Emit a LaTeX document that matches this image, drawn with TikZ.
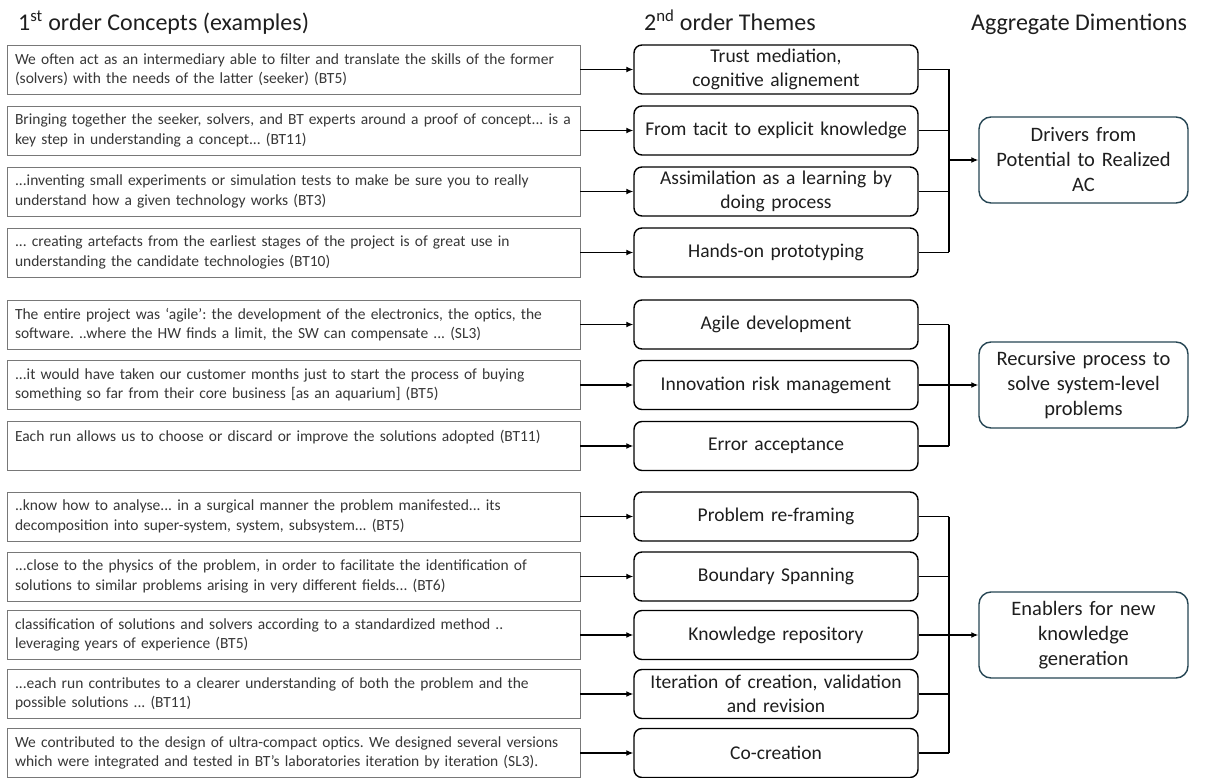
\documentclass[tikz,border=0pt]{standalone}
\usepackage{fontspec}
\setmainfont{Carlito}
\usetikzlibrary{arrows.meta}
\definecolor{aggc}{RGB}{38,70,84}
\definecolor{boxgray}{RGB}{120,120,120}
\definecolor{txt}{RGB}{55,55,55}
\definecolor{ttxt}{RGB}{30,30,30}
\begin{document}
\frenchspacing
\begin{tikzpicture}[x=1pt,y=-1pt,
  quote/.style={draw=boxgray, line width=0.9pt, minimum width=573pt, minimum height=49pt,
    text width=557pt, align=left, inner xsep=8pt, inner ysep=0pt,
    font=\fontsize{15.5}{19.5}\selectfont, text=txt},
  theme/.style={draw=black, line width=1.4pt, rounded corners=8pt, minimum width=284pt,
    minimum height=49pt, text width=276pt, align=center, inner xsep=4pt, inner ysep=0pt,
    font=\fontsize{19.5}{23.5}\selectfont, text=ttxt},
  agg/.style={draw=aggc, line width=1.4pt, rounded corners=12pt, minimum width=209pt,
    minimum height=86pt, text width=201pt, align=center, inner xsep=4pt, inner ysep=0pt,
    font=\fontsize{20.5}{25}\selectfont, text=ttxt},
  conn/.style={line width=1.3pt, black},
  arr/.style={conn, -{Latex[length=7pt,width=6pt]}},
  head/.style={font=\fontsize{24}{28}\selectfont, anchor=base west, inner sep=0pt, text=ttxt}]
\fill[white] (0,0) rectangle (1205,778);
\useasboundingbox (0,0) rectangle (1205,778);

% headers
\node[head] (h1) at (18,31) {1\textsuperscript{st} order Concepts (examples)};
\node[head] (h2) at (644,31) {2\textsuperscript{nd} order Themes};
\node[head] (h3) at (971,31) {Aggregate Dimentions};

% group 1
\node[quote] (q1) at (293.5,69.5) {We often act as an intermediary able to filter and translate the skills of the former\\(solvers) with the needs of the latter (seeker) (BT5)};
\node[quote] (q2) at (293.5,130.5) {Bringing together the seeker, solvers, and BT experts around a proof of concept... is a\\key step in understanding a concept... (BT11)};
\node[quote] (q3) at (293.5,191.5) {...inventing small experiments or simulation tests to make be sure you to really\\understand how a given technology works (BT3)};
\node[quote] (q4) at (293.5,252.5) {... creating artefacts from the earliest stages of the project is of great use in\\understanding the candidate technologies (BT10)};

\node[theme] (t1) at (776,69.5) {Trust mediation,\\cognitive alignement};
\node[theme] (t2) at (776,130.5) {From tacit to explicit knowledge};
\node[theme] (t3) at (776,191.5) {Assimilation as a learning by\\doing process};
\node[theme] (t4) at (776,252.5) {Hands-on prototyping};

\node[agg] (a1) at (1083.5,160) {Drivers from\\Potential to Realized\\AC};

% group 2
\node[quote] (q5) at (293.5,324.5) {The entire project was ‘agile’: the development of the electronics, the optics, the\\software. ..where the HW finds a limit, the SW can compensate ... (SL3)};
\node[quote] (q6) at (293.5,385) {...it would have taken our customer months just to start the process of buying\\something so far from their core business [as an aquarium] (BT5)};
\node[quote] (q7) at (293.5,446) {Each run allows us to choose or discard or improve the solutions adopted (BT11)\\\mbox{}};

\node[theme] (t5) at (776,324.5) {Agile development};
\node[theme] (t6) at (776,385) {Innovation risk management};
\node[theme] (t7) at (776,446) {Error acceptance};

\node[agg] (a2) at (1083.5,385) {Recursive process to\\solve system-level\\problems};

% group 3
\node[quote] (q8) at (293.5,516.5) {..know how to analyse... in a surgical manner the problem manifested... its\\decomposition into super-system, system, subsystem... (BT5)};
\node[quote] (q9) at (293.5,576.5) {...close to the physics of the problem, in order to facilitate the identification of\\solutions to similar problems arising in very different fields... (BT6)};
\node[quote] (q10) at (293.5,635) {classification of solutions and solvers according to a standardized method ..\\leveraging years of experience (BT5)};
\node[quote] (q11) at (293.5,694) {...each run contributes to a clearer understanding of both the problem and the\\possible solutions ... (BT11)};
\node[quote] (q12) at (293.5,753) {We contributed to the design of ultra-compact optics. We designed several versions\\which were integrated and tested in BT’s laboratories iteration by iteration (SL3).};

\node[theme] (t8) at (776,516.5) {Problem re-framing};
\node[theme] (t9) at (776,576.5) {Boundary Spanning};
\node[theme] (t10) at (776,635) {Knowledge repository};
\node[theme] (t11) at (776,694) {Iteration of creation, validation\\and revision};
\node[theme] (t12) at (776,753) {Co-creation};

\node[agg] (a3) at (1083.5,635) {Enablers for new\\knowledge\\generation};

% connectors quote -> theme
\foreach \i in {1,...,12} {\draw[arr] (q\i.east) -- (t\i.west);}

% bus
\coordinate (bus) at (949,0);
\foreach \i in {1,...,4} {\draw[conn] (t\i.east) -- (t\i.east -| bus);}
\draw[conn] (t1.east -| bus) -- (t4.east -| bus);
\draw[arr] (a1.west -| bus) -- (a1.west);

\foreach \i in {5,6,7} {\draw[conn] (t\i.east) -- (t\i.east -| bus);}
\draw[conn] (t5.east -| bus) -- (t7.east -| bus);
\draw[arr] (a2.west -| bus) -- (a2.west);

\foreach \i in {8,...,12} {\draw[conn] (t\i.east) -- (t\i.east -| bus);}
\draw[conn] (t8.east -| bus) -- (t12.east -| bus);
\draw[arr] (a3.west -| bus) -- (a3.west);
\end{tikzpicture}
\end{document}
